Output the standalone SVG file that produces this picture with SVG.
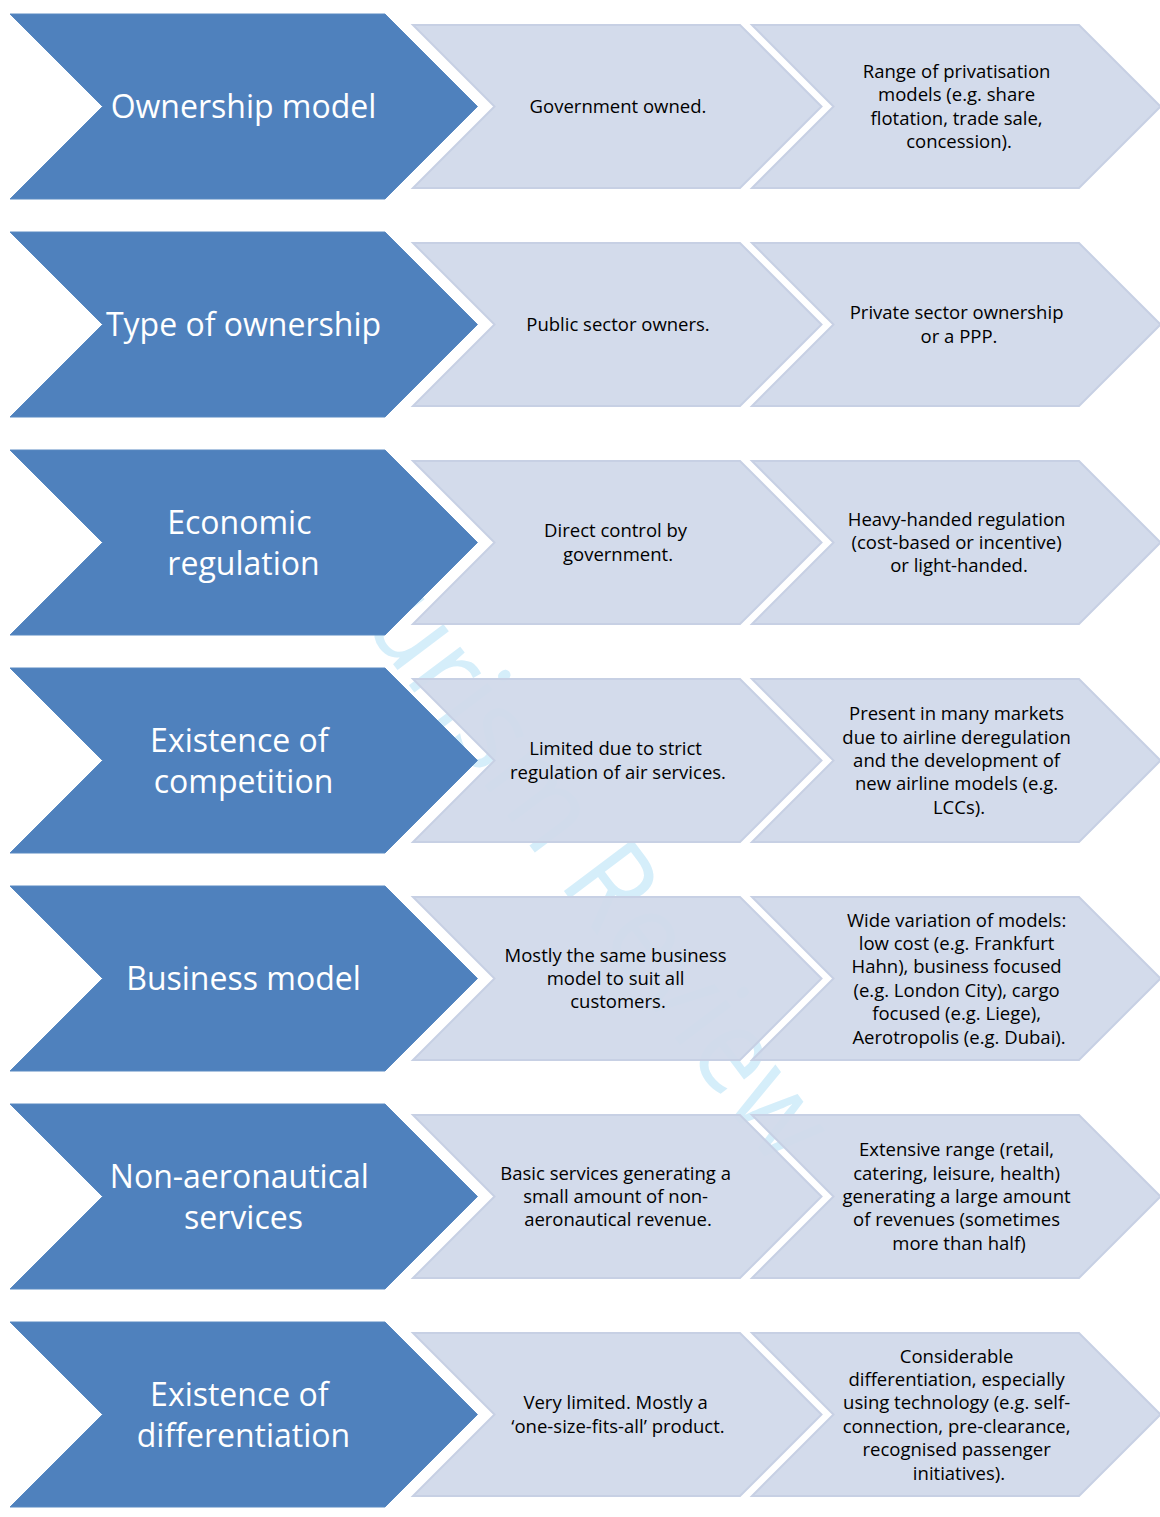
<svg xmlns="http://www.w3.org/2000/svg" width="1160" height="1517" viewBox="0 0 1160 1517">
  <style>
    .main { fill: #4F81BD; stroke: #5A8AC2; stroke-width: 1; }
    .step { fill: #D1D9EA; fill-opacity: 0.95; stroke: #C7D0E4; stroke-width: 2; }
    .title { font-family: "Open Sans", "Noto Sans", "Liberation Sans", sans-serif; font-size: 32px; fill: #FFFFFF; text-anchor: middle; }
    .body { font-family: "Open Sans", "Noto Sans", "Liberation Sans", sans-serif; font-size: 18.5px; fill: #000000; text-anchor: middle; }
    .wm { font-family: "Open Sans", "Noto Sans", "Liberation Sans", sans-serif; font-size: 120px; fill: #D5EEFA; }
  </style>
  <defs>
    <!-- large category chevron: 375 wide body, 185 tall, 45-degree point and notch -->
    <path id="chev-main" d="M0,0 H375 L467.5,92.5 L375,185 H0 L92.5,92.5 Z"/>
    <!-- smaller stage chevron: 327 wide body, 163 tall -->
    <path id="chev-step" d="M0,0 H327 L408.5,81.5 L327,163 H0 L81.5,81.5 Z"/>
  </defs>

  <rect width="1160" height="1517" fill="#FFFFFF"/>

  <!-- background watermark, partly hidden by the chevrons -->
  <text class="wm" transform="translate(286,522) rotate(53) scale(0.92,1)">Tourism Review</text>

  <!-- Row 1 -->
  <g id="ownership-model">
    <use href="#chev-main" class="main" x="10" y="14"/>
    <text class="title" x="243.5" y="118">Ownership model</text>
  </g>
  <g id="ownership-model-before">
    <use href="#chev-step" class="step" x="413" y="25"/>
    <text class="body" x="618" y="113">Government owned.</text>
  </g>
  <g id="ownership-model-after">
    <use href="#chev-step" class="step" x="752" y="25"/>
    <text class="body" y="78">
      <tspan x="959">Range of privatisation</tspan>
      <tspan x="959" dy="23.4">models (e.g. share</tspan>
      <tspan x="959" dy="23.4">flotation, trade sale,</tspan>
      <tspan x="959" dy="23.4">concession).</tspan>
    </text>
  </g>

  <!-- Row 2 -->
  <g id="type-of-ownership">
    <use href="#chev-main" class="main" x="10" y="232"/>
    <text class="title" x="243.5" y="336">Type of ownership</text>
  </g>
  <g id="type-of-ownership-before">
    <use href="#chev-step" class="step" x="413" y="243"/>
    <text class="body" x="618" y="331">Public sector owners.</text>
  </g>
  <g id="type-of-ownership-after">
    <use href="#chev-step" class="step" x="752" y="243"/>
    <text class="body" y="319.3">
      <tspan x="959">Private sector ownership</tspan>
      <tspan x="959" dy="23.4">or a PPP.</tspan>
    </text>
  </g>

  <!-- Row 3 -->
  <g id="economic-regulation">
    <use href="#chev-main" class="main" x="10" y="450"/>
    <text class="title" y="533.5">
      <tspan x="243.5">Economic</tspan>
      <tspan x="243.5" dy="41">regulation</tspan>
    </text>
  </g>
  <g id="economic-regulation-before">
    <use href="#chev-step" class="step" x="413" y="461"/>
    <text class="body" y="537.3">
      <tspan x="618">Direct control by</tspan>
      <tspan x="618" dy="23.4">government.</tspan>
    </text>
  </g>
  <g id="economic-regulation-after">
    <use href="#chev-step" class="step" x="752" y="461"/>
    <text class="body" y="525.6">
      <tspan x="959">Heavy-handed regulation</tspan>
      <tspan x="959" dy="23.4">(cost-based or incentive)</tspan>
      <tspan x="959" dy="23.4">or light-handed.</tspan>
    </text>
  </g>

  <!-- Row 4 -->
  <g id="existence-of-competition">
    <use href="#chev-main" class="main" x="10" y="668"/>
    <text class="title" y="751.5">
      <tspan x="243.5">Existence of</tspan>
      <tspan x="243.5" dy="41">competition</tspan>
    </text>
  </g>
  <g id="existence-of-competition-before">
    <use href="#chev-step" class="step" x="413" y="679"/>
    <text class="body" y="755.3">
      <tspan x="618">Limited due to strict</tspan>
      <tspan x="618" dy="23.4">regulation of air services.</tspan>
    </text>
  </g>
  <g id="existence-of-competition-after">
    <use href="#chev-step" class="step" x="752" y="679"/>
    <text class="body" y="720.2">
      <tspan x="959">Present in many markets</tspan>
      <tspan x="959" dy="23.4">due to airline deregulation</tspan>
      <tspan x="959" dy="23.4">and the development of</tspan>
      <tspan x="959" dy="23.4">new airline models (e.g.</tspan>
      <tspan x="959" dy="23.4">LCCs).</tspan>
    </text>
  </g>

  <!-- Row 5 -->
  <g id="business-model">
    <use href="#chev-main" class="main" x="10" y="886"/>
    <text class="title" x="243.5" y="990">Business model</text>
  </g>
  <g id="business-model-before">
    <use href="#chev-step" class="step" x="413" y="897"/>
    <text class="body" y="961.6">
      <tspan x="618">Mostly the same business</tspan>
      <tspan x="618" dy="23.4">model to suit all</tspan>
      <tspan x="618" dy="23.4">customers.</tspan>
    </text>
  </g>
  <g id="business-model-after">
    <use href="#chev-step" class="step" x="752" y="897"/>
    <text class="body" y="926.5">
      <tspan x="959">Wide variation of models:</tspan>
      <tspan x="959" dy="23.4">low cost (e.g. Frankfurt</tspan>
      <tspan x="959" dy="23.4">Hahn), business focused</tspan>
      <tspan x="959" dy="23.4">(e.g. London City), cargo</tspan>
      <tspan x="959" dy="23.4">focused (e.g. Liege),</tspan>
      <tspan x="959" dy="23.4">Aerotropolis (e.g. Dubai).</tspan>
    </text>
  </g>

  <!-- Row 6 -->
  <g id="non-aeronautical-services">
    <use href="#chev-main" class="main" x="10" y="1104"/>
    <text class="title" y="1187.5">
      <tspan x="243.5">Non-aeronautical</tspan>
      <tspan x="243.5" dy="41">services</tspan>
    </text>
  </g>
  <g id="non-aeronautical-services-before">
    <use href="#chev-step" class="step" x="413" y="1115"/>
    <text class="body" y="1179.6">
      <tspan x="618">Basic services generating a</tspan>
      <tspan x="618" dy="23.4">small amount of non-</tspan>
      <tspan x="618" dy="23.4">aeronautical revenue.</tspan>
    </text>
  </g>
  <g id="non-aeronautical-services-after">
    <use href="#chev-step" class="step" x="752" y="1115"/>
    <text class="body" y="1156.2">
      <tspan x="959">Extensive range (retail,</tspan>
      <tspan x="959" dy="23.4">catering, leisure, health)</tspan>
      <tspan x="959" dy="23.4">generating a large amount</tspan>
      <tspan x="959" dy="23.4">of revenues (sometimes</tspan>
      <tspan x="959" dy="23.4">more than half)</tspan>
    </text>
  </g>

  <!-- Row 7 -->
  <g id="existence-of-differentiation">
    <use href="#chev-main" class="main" x="10" y="1322"/>
    <text class="title" y="1405.5">
      <tspan x="243.5">Existence of</tspan>
      <tspan x="243.5" dy="41">differentiation</tspan>
    </text>
  </g>
  <g id="existence-of-differentiation-before">
    <use href="#chev-step" class="step" x="413" y="1333"/>
    <text class="body" y="1409.3">
      <tspan x="618">Very limited. Mostly a</tspan>
      <tspan x="618" dy="23.4">‘one-size-fits-all’ product.</tspan>
    </text>
  </g>
  <g id="existence-of-differentiation-after">
    <use href="#chev-step" class="step" x="752" y="1333"/>
    <text class="body" y="1362.5">
      <tspan x="959">Considerable</tspan>
      <tspan x="959" dy="23.4">differentiation, especially</tspan>
      <tspan x="959" dy="23.4">using technology (e.g. self-</tspan>
      <tspan x="959" dy="23.4">connection, pre-clearance,</tspan>
      <tspan x="959" dy="23.4">recognised passenger</tspan>
      <tspan x="959" dy="23.4">initiatives).</tspan>
    </text>
  </g>
</svg>
